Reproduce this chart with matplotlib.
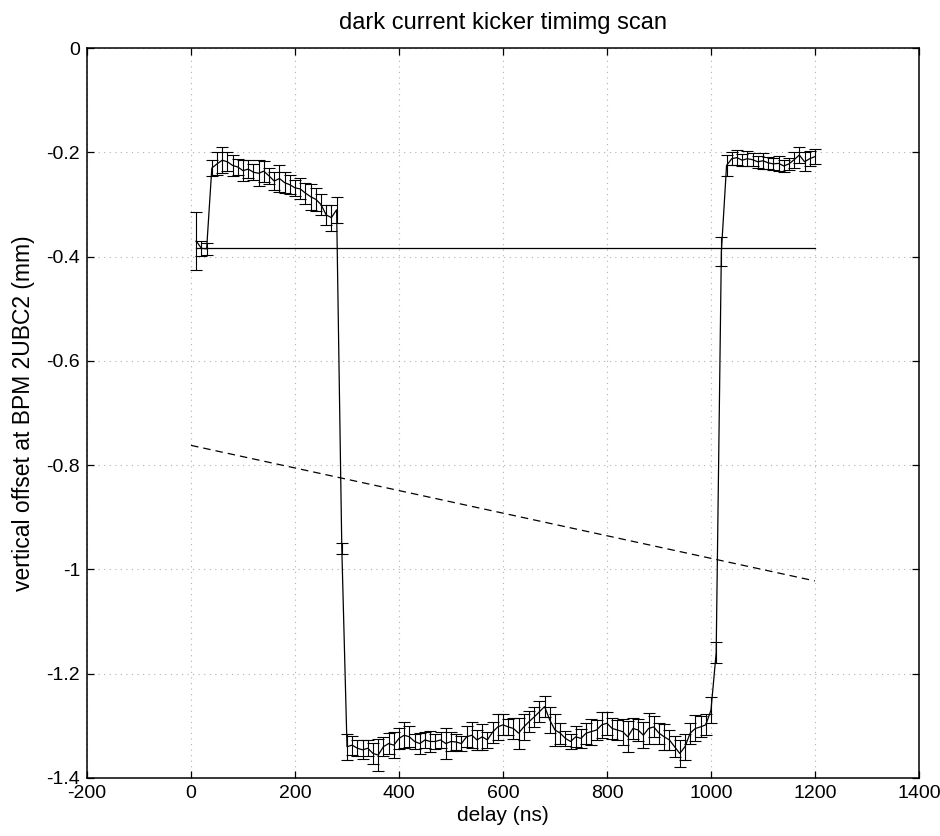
import numpy as np
import matplotlib
matplotlib.use("Agg")
import matplotlib.pyplot as plt

plt.rcParams['font.family'] = ['Liberation Sans', 'DejaVu Sans']

title = "dark current kicker timimg scan"
xlabel = "delay (ns)"
ylabel = "vertical offset at BPM 2UBC2 (mm)"

delay = [10, 20, 30] + list(range(40, 1201, 10))

offset = [
    -0.370, -0.384, -0.385,
    # 40 .. 280
    -0.230, -0.222, -0.215, -0.218, -0.225, -0.228, -0.235, -0.232, -0.238, -0.240,
    -0.236, -0.245, -0.255, -0.250, -0.258, -0.262, -0.268, -0.270, -0.278, -0.285,
    -0.290, -0.300, -0.320, -0.325, -0.310,
    # 290
    -0.960,
    # 300 .. 990
    -1.340, -1.337, -1.343, -1.346, -1.343, -1.353, -1.356, -1.340, -1.334, -1.337,
    -1.324, -1.318, -1.321, -1.330, -1.334, -1.327, -1.330, -1.330, -1.327, -1.334,
    -1.330, -1.331, -1.334, -1.321, -1.318, -1.327, -1.321, -1.327, -1.312, -1.302,
    -1.298, -1.302, -1.305, -1.314, -1.302, -1.292, -1.283, -1.273, -1.263, -1.289,
    -1.308, -1.314, -1.324, -1.330, -1.321, -1.324, -1.314, -1.311, -1.308, -1.298,
    -1.295, -1.305, -1.308, -1.311, -1.321, -1.305, -1.308, -1.318, -1.305, -1.302,
    -1.314, -1.321, -1.327, -1.340, -1.353, -1.340, -1.314, -1.305, -1.302, -1.298,
    # 1000 .. 1030
    -1.270, -1.160, -0.390, -0.225,
    # 1040 .. 1200
    -0.212, -0.210, -0.215, -0.212, -0.214, -0.218, -0.216, -0.220, -0.222, -0.221,
    -0.226, -0.222, -0.214, -0.205, -0.218, -0.212, -0.208,
]

error = [
    0.055, 0.015, 0.012,
    # 40 .. 280
    0.015, 0.022, 0.025, 0.018, 0.020, 0.015, 0.020, 0.018, 0.015, 0.025,
    0.020, 0.015, 0.018, 0.025, 0.020, 0.018, 0.015, 0.020, 0.020, 0.025,
    0.022, 0.020, 0.020, 0.025, 0.025,
    # 290
    0.010,
    # 300 .. 990
    0.025, 0.018, 0.015, 0.018, 0.015, 0.020, 0.030, 0.018, 0.020, 0.025,
    0.020, 0.025, 0.020, 0.015, 0.020, 0.015, 0.020, 0.015, 0.015, 0.030,
    0.018, 0.015, 0.015, 0.020, 0.025, 0.020, 0.025, 0.015, 0.020, 0.025,
    0.020, 0.015, 0.020, 0.030, 0.025, 0.020, 0.020, 0.020, 0.020, 0.025,
    0.030, 0.020, 0.015, 0.015, 0.020, 0.018, 0.020, 0.025, 0.020, 0.025,
    0.022, 0.020, 0.020, 0.025, 0.030, 0.020, 0.022, 0.025, 0.030, 0.020,
    0.020, 0.025, 0.020, 0.020, 0.025, 0.025, 0.020, 0.025, 0.020, 0.020,
    # 1000 .. 1030
    0.025, 0.020, 0.028, 0.020,
    # 1040 .. 1200
    0.012, 0.015, 0.012, 0.015, 0.012, 0.012, 0.015, 0.012, 0.012, 0.015,
    0.012, 0.012, 0.015, 0.015, 0.018, 0.015, 0.015,
]

ref_x = [10, 1200]
ref_level = [-0.384, -0.384]

fit_x = [0, 1200]
fit_y = [-0.762, -1.022]

xticks = [-200, 0, 200, 400, 600, 800, 1000, 1200, 1400]
yticks = [0, -0.2, -0.4, -0.6, -0.8, -1.0, -1.2, -1.4]
yticklabels = ["0", "-0.2", "-0.4", "-0.6", "-0.8", "-1", "-1.2", "-1.4"]

fig = plt.figure(figsize=(9.4, 8.36), dpi=100)
ax = fig.add_axes([0.0926, 0.0694, 0.885, 0.873])

ax.errorbar(delay, offset, yerr=error, color='black', linewidth=0.9,
            elinewidth=0.8, capsize=4.5, capthick=0.8, zorder=3)
ax.plot(ref_x, ref_level, color='black', linewidth=0.9, zorder=2)
ax.plot(fit_x, fit_y, color='black', linewidth=0.9, linestyle=(0, (6, 4)), zorder=2)

ax.set_xlim(-200, 1400)
ax.set_ylim(-1.4, 0)
ax.set_xticks(xticks)
ax.set_xticklabels([str(t) for t in xticks])
ax.set_yticks(yticks)
ax.set_yticklabels(yticklabels)

ax.grid(True, color='#b0b0b0', linestyle=(0, (1, 4)), linewidth=0.8)
ax.tick_params(direction='in', top=True, right=True, length=5, width=0.9,
               labelsize=14, pad=5)
for s in ax.spines.values():
    s.set_linewidth(1.1)

ax.set_title(title, fontsize=17, pad=14)
ax.set_xlabel(xlabel, fontsize=15, labelpad=3)
ax.set_ylabel(ylabel, fontsize=16.5, labelpad=8)

fig.savefig("out.png", dpi=100)
